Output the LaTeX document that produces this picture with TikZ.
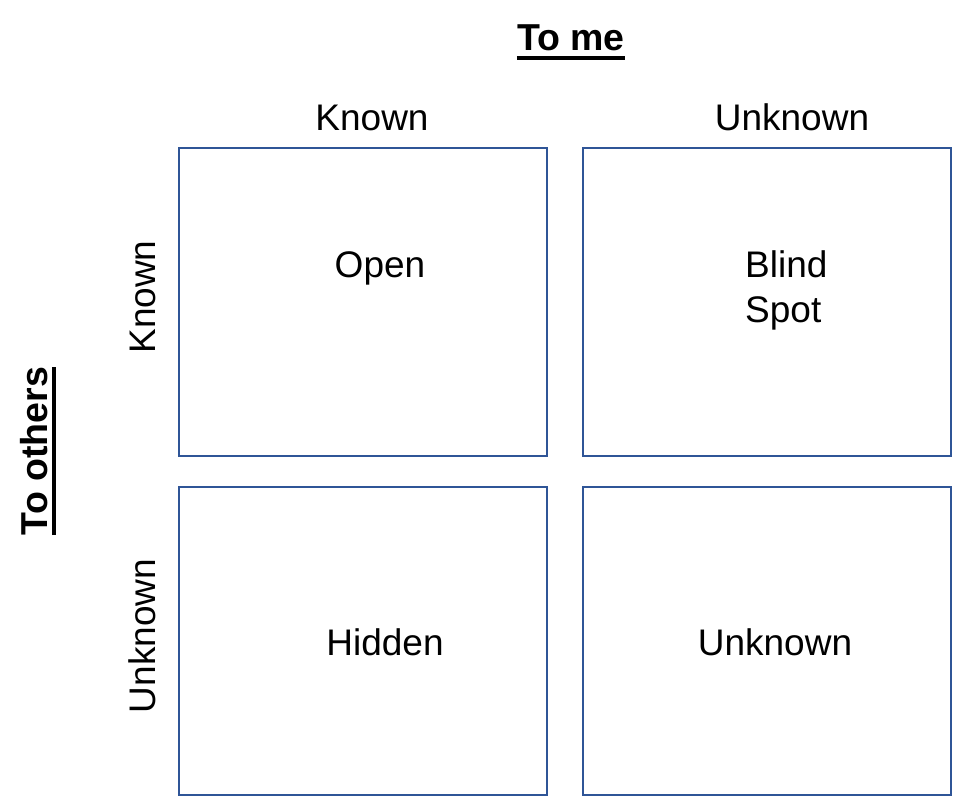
\documentclass[tikz,border=0pt]{standalone}
\usepackage{fontspec}
\setmainfont{Liberation Sans}
\definecolor{boxblue}{RGB}{47,85,151}
\begin{document}
\begin{tikzpicture}[x=1pt,y=-1pt,
    quad/.style={draw=boxblue, line width=2pt, minimum width=368pt, minimum height=308pt, inner sep=0pt},
    lbl/.style={font=\fontsize{37}{45}\selectfont, inner sep=0pt, anchor=base},
    head/.style={font=\fontsize{37.5}{45}\selectfont\bfseries, inner sep=0pt, anchor=base},
    uline/.style={line width=3.8pt}]
            \useasboundingbox (0,0) rectangle (954,800);
            \node[quad] (KK) at (363,302) {};
            \node[quad] (KU) at (767,302) {};
            \node[quad] (UK) at (363,641) {};
            \node[quad] (UU) at (767,641) {};
            \node[head] (tome) at (571,51) {To me};
            \node[head, rotate=90] (toothers) at (47,451) {To others};
            \draw[uline] ([yshift=-6.8pt]tome.south west) -- ([yshift=-6.8pt]tome.south east);
            \draw[uline] ([xshift=6.8pt]toothers.south west) -- ([xshift=6.8pt]toothers.south east);
            \node[lbl] (colknown) at (372,131) {Known};
            \node[lbl] (colunknown) at (792,131) {Unknown};
            \node[lbl, rotate=90] (rowknown) at (155,297) {Known};
            \node[lbl, rotate=90] (rowunknown) at (155,636) {Unknown};
            \node[lbl] (open) at (380,277) {Open};
            \node[lbl, anchor=north west, align=left] (blind) at (745,250) {Blind\\Spot};
            \node[lbl] (hidden) at (385,655) {Hidden};
            \node[lbl] (unknown) at (775,655) {Unknown};
        \end{tikzpicture}
\end{document}
